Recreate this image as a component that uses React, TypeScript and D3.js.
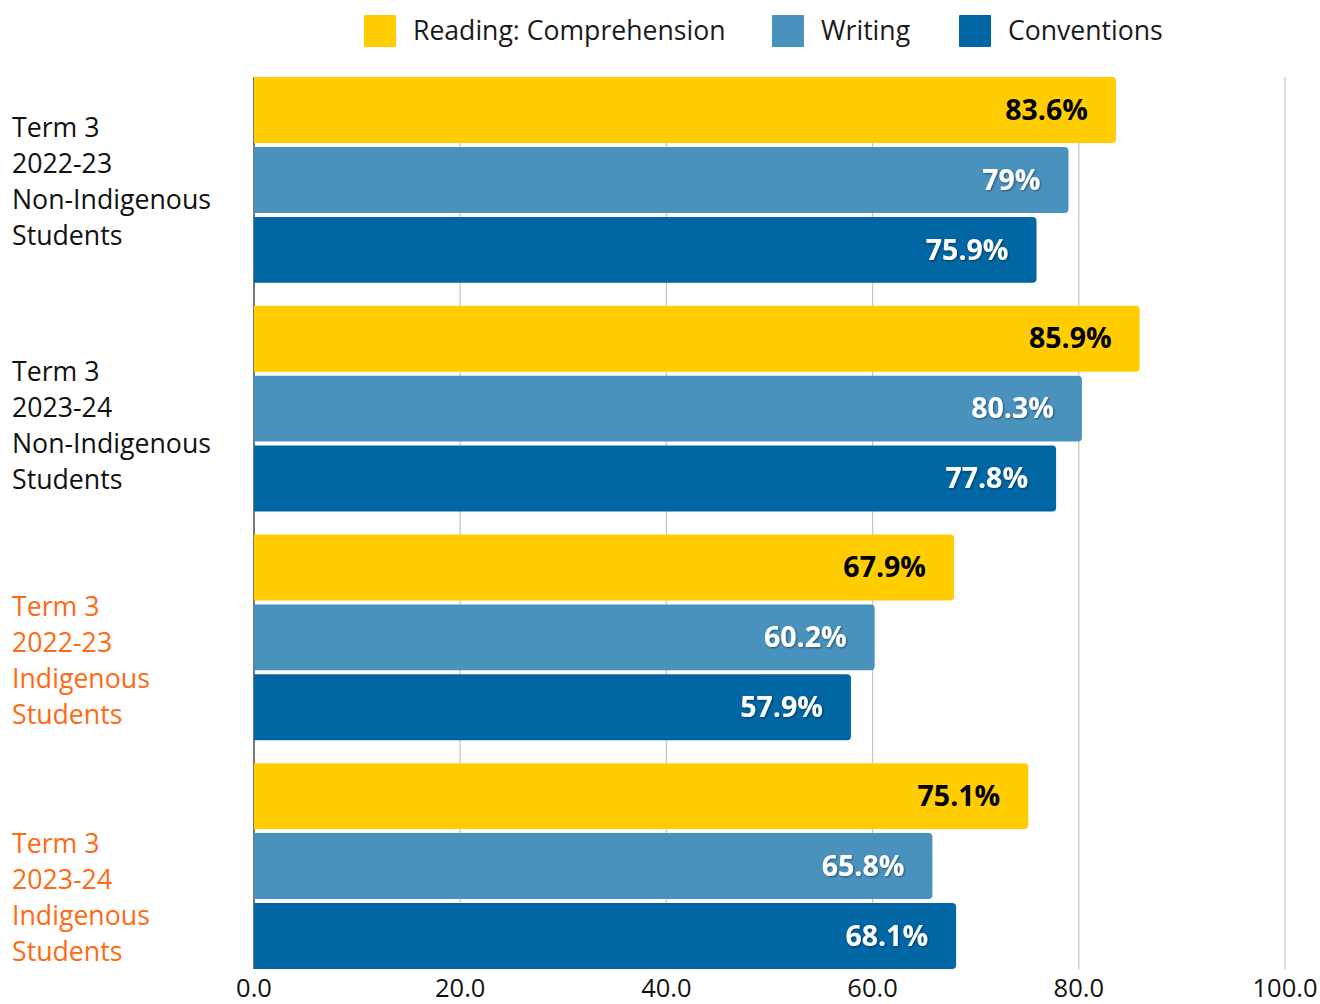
import React from "react";
import * as d3 from "d3";

const categories = [
  ["Term 3", "2022-23", "Non-Indigenous", "Students"],
  ["Term 3", "2023-24", "Non-Indigenous", "Students"],
  ["Term 3", "2022-23", "Indigenous", "Students"],
  ["Term 3", "2023-24", "Indigenous", "Students"],
];
const categoryIndigenous = [false, false, true, true];
const seriesNames = ["Reading: Comprehension", "Writing", "Conventions"];
const reading = [83.6, 85.9, 67.9, 75.1];
const writing = [79, 80.3, 60.2, 65.8];
const conventions = [75.9, 77.8, 57.9, 68.1];
const valueLabels = [
  ["83.6%", "85.9%", "67.9%", "75.1%"],
  ["79%", "80.3%", "60.2%", "65.8%"],
  ["75.9%", "77.8%", "57.9%", "68.1%"],
];
const xTicks = [0, 20, 40, 60, 80, 100];

const W = 1320;
const H = 1004;
const colors = ["#FFCD00", "#4A92BE", "#0066A4"];
const labelColors = ["#000000", "#FFFFFF", "#FFFFFF"];
const catLabelShift = [2, 17, 23, 32];
const FONT = "'Open Sans', 'Noto Sans', sans-serif";

export default function App() {
  const series = [reading, writing, conventions];
  const x = d3.scaleLinear().domain([0, 100]).range([254, 1285]);
  const y = d3
    .scaleBand<number>()
    .domain(d3.range(categories.length))
    .range([77, 969])
    .paddingInner(0.1)
    .paddingOuter(0);
  const sub = d3
    .scaleBand<number>()
    .domain(d3.range(series.length))
    .range([0, y.bandwidth()])
    .paddingInner(0.057);

  const r = 4;
  const barPath = (x0: number, x1: number, y0: number, h: number) => {
    const rr = Math.min(r, (x1 - x0) / 2);
    return `M${x0},${y0}H${x1 - rr}Q${x1},${y0} ${x1},${y0 + rr}V${y0 + h - rr}Q${x1},${y0 + h} ${x1 - rr},${y0 + h}H${x0}Z`;
  };

  const legendItems = [
    { x: 364, tx: 413 },
    { x: 772, tx: 821 },
    { x: 959, tx: 1008 },
  ];

  return (
    <svg width={W} height={H} style={{ position: "absolute", left: 0, top: 0, background: "#fff" }} fontFamily={FONT}>
      <defs>
        <filter id="ts" x="-10%" y="-20%" width="130%" height="150%">
          <feDropShadow dx="1" dy="1" stdDeviation="1" floodColor="#000" floodOpacity="0.45" />
        </filter>
      </defs>
      {/* legend */}
      {seriesNames.map((n, i) => (
        <g key={n}>
          <rect x={legendItems[i].x} y={15} width={32} height={32} rx={1} fill={colors[i]} />
          <text x={legendItems[i].tx} y={40} fontSize={26.6} fill="#1a1a1a">
            {n}
          </text>
        </g>
      ))}
      {/* gridlines */}
      {xTicks.map((t) => (
        <line
          key={t}
          x1={x(t)}
          x2={x(t)}
          y1={77}
          y2={969}
          stroke={t === 0 ? "#777" : "#c8c8c8"}
          strokeWidth={t === 0 ? 2 : 1.3}
        />
      ))}
      {/* bars */}
      {categories.map((c, ci) =>
        series.map((s, si) => {
          const y0 = (y(ci) as number) + (sub(si) as number);
          const h = sub.bandwidth();
          return (
            <g key={`${ci}-${si}`}>
              <path d={barPath(x(0), x(s[ci]), y0, h)} fill={colors[si]} />
              <text
                x={x(s[ci]) - 28}
                y={y0 + h / 2}
                dy="0.34em"
                textAnchor="end"
                fontSize={28.5}
                fontWeight={700}
                fill={labelColors[si]}
                filter={si === 0 ? undefined : "url(#ts)"}
              >
                {valueLabels[si][ci]}
              </text>
            </g>
          );
        })
      )}
      {/* category labels */}
      {categories.map((lines, ci) => {
        const cy = (y(ci) as number) + y.bandwidth() / 2 + catLabelShift[ci];
        const lh = 36;
        const start = cy - ((lines.length - 1) * lh) / 2;
        return (
          <text
            key={ci}
            x={12}
            fontSize={26.7}
            fill={categoryIndigenous[ci] ? "#FF6A13" : "#111"}
          >
            {lines.map((l, li) => (
              <tspan key={li} x={12} y={start + li * lh} dy="0.35em">
                {l}
              </tspan>
            ))}
          </text>
        );
      })}
      {/* x axis tick labels */}
      {xTicks.map((t) => (
        <text key={t} x={x(t)} y={997} textAnchor="middle" fontSize={25.5} fill="#111">
          {d3.format(".1f")(t)}
        </text>
      ))}
    </svg>
  );
}
